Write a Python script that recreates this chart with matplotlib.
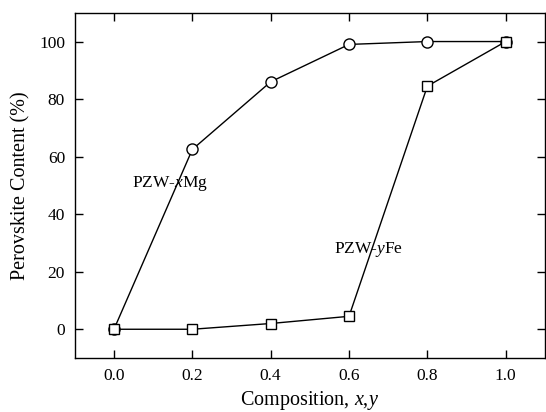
import matplotlib
matplotlib.use("Agg")
import matplotlib.pyplot as plt

plt.rcParams["font.family"] = ["Liberation Serif", "DejaVu Serif"]
plt.rcParams["mathtext.fontset"] = "custom"
plt.rcParams["mathtext.it"] = "Liberation Serif:italic"
plt.rcParams["mathtext.rm"] = "Liberation Serif"

# composition values
comp = [0.0, 0.2, 0.4, 0.6, 0.8, 1.0]
mg_content = [0.0, 62.5, 86.0, 99.0, 100.0, 100.0]
fe_content = [0.0, 0.0, 2.0, 4.5, 84.5, 100.0]
xticks = [0.0, 0.2, 0.4, 0.6, 0.8, 1.0]
yticks = [0, 20, 40, 60, 80, 100]

fig = plt.figure(figsize=(5.46, 4.12), dpi=100)
ax = fig.add_axes([0.137, 0.131, 0.861, 0.838])

ax.plot(comp, mg_content, color="black", lw=1.0, marker="o", ms=8,
        mfc="white", mec="black", mew=1.0)
ax.plot(comp, fe_content, color="black", lw=1.0, marker="s", ms=7,
        mfc="white", mec="black", mew=1.0)

ax.text(0.142, 50.6, "PZW-$x$Mg", fontsize=12.5, ha="center", va="center")
ax.text(0.65, 27.6, "PZW-$y$Fe", fontsize=12.5, ha="center", va="center")

ax.set_xlim(-0.1, 1.1)
ax.set_ylim(-10, 110)
ax.set_xticks(xticks)
ax.set_xticklabels([f"{t:.1f}" for t in xticks])
ax.set_yticks(yticks)
ax.tick_params(direction="in", top=True, right=True, length=6, width=1,
               labelsize=12.5, pad=7)
for s in ax.spines.values():
    s.set_linewidth(1.0)

ax.set_xlabel("Composition, $x$,$y$", fontsize=14.5, labelpad=4)
ax.set_ylabel("Perovskite Content (%)", fontsize=14.5, labelpad=6)

fig.savefig("out.png", dpi=100)
